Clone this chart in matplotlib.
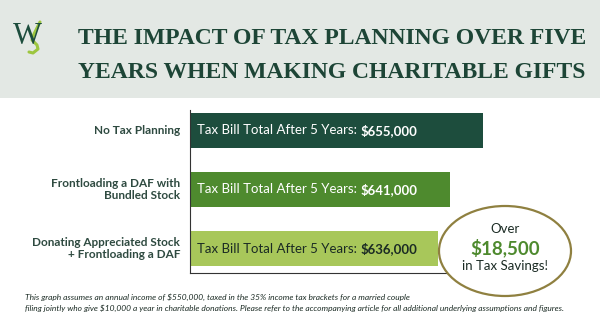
import matplotlib.pyplot as plt
from matplotlib.patches import Ellipse, Rectangle

# data
labels = ["No Tax Planning", "Frontloading a DAF with\nBundled Stock",
          "Donating Appreciated Stock\n+ Frontloading a DAF"]
totals = [655000, 641000, 636000]
bar_colors = ["#1d4d3d", "#4e8a2e", "#a8c75a"]
text_colors = ["white", "white", "#1b2b24"]
savings = "$18,500"
title_lines = ["THE IMPACT OF TAX PLANNING OVER FIVE",
               "YEARS WHEN MAKING CHARITABLE GIFTS"]
footnote = ["This graph assumes an annual income of $550,000, taxed in the 35% income tax brackets for a married couple",
            "filing jointly who give $10,000 a year in charitable donations. Please refer to the accompanying article for all additional underlying assumptions and figures."]

W, H = 600, 314
fig = plt.figure(figsize=(6, 3.14), dpi=100)
fig.patch.set_facecolor("white")

# background layer in pixel coords
ov = fig.add_axes([0, 0, 1, 1], zorder=0)
ov.set_xlim(0, W)
ov.set_ylim(H, 0)
ov.axis("off")
ov.add_patch(Rectangle((0, 0), W, 98, color="#e3e8e4", lw=0))

dark = "#1d4536"
for i, line in enumerate(title_lines):
    ov.text(332, 39 + i * 33, line, ha="center", va="center", fontsize=17,
            family="Liberation Serif", weight="bold", color=dark)

# logo: W plus a green swoosh
ov.text(27, 36, "W", ha="center", va="center", fontsize=22,
        family="Liberation Serif", color="#1d4d3d")
ov.plot([40, 34, 32, 37, 38, 33, 29], [22, 34, 40, 45, 49, 53, 52], color="#9dc63f",
        lw=2.2, solid_capstyle="round")

# bar chart
x0, x1 = 190, 504
ytop, ybot = 110, 273
ax = fig.add_axes([x0 / W, 1 - ybot / H, (x1 - x0) / W, (ybot - ytop) / H], zorder=1)
ax.patch.set_alpha(0)
pos = list(range(len(totals)))
ax.barh(pos, totals, height=0.59, color=bar_colors)
ax.set_xlim(531000, 663700)
ax.set_ylim(2.41, -0.34)
for s in ["top", "right"]:
    ax.spines[s].set_visible(False)
for s in ["left", "bottom"]:
    ax.spines[s].set_color("#333333")
    ax.spines[s].set_linewidth(0.8)
ax.set_xticks([])
ax.set_yticks([])

ytr = ax.get_yaxis_transform()
for i, (lab, v) in enumerate(zip(labels, totals)):
    ax.annotate(lab, xy=(0, i), xycoords=ytr, xytext=(-7, 0), textcoords="offset points",
                ha="right", va="center", fontsize=8.5, family="Lato", weight="bold",
                color="#2e4a40", linespacing=1.05)
    t = ax.annotate("Tax Bill Total After 5 Years: ", xy=(0, i), xycoords=ytr,
                    xytext=(5, 0), textcoords="offset points", ha="left", va="center",
                    fontsize=9.5, family="Lato", color=text_colors[i])
    ax.annotate("${:,.0f}".format(v), xy=(1, 0.5), xycoords=t, ha="left", va="center",
                fontsize=9.5, family="Lato", weight="bold", color=text_colors[i])

# savings bubble
ov2 = fig.add_axes([0, 0, 1, 1], zorder=2)
ov2.set_xlim(0, W)
ov2.set_ylim(H, 0)
ov2.axis("off")
ov2.add_patch(Ellipse((505, 251), 132, 90, facecolor="white", edgecolor="#8f8040", lw=1.6))
ov2.text(505, 229, "Over", ha="center", va="center", fontsize=9.5, family="Lato", color="#1b2b24")
ov2.text(505, 248, savings, ha="center", va="center", fontsize=13.5, family="Lato",
         weight="bold", color="#4e8a2e")
ov2.text(505, 266, "in Tax Savings!", ha="center", va="center", fontsize=9.5, family="Lato",
         color="#1b2b24")

for i, line in enumerate(footnote):
    ov2.text(25, 297 + i * 11, line, ha="left", va="center", fontsize=6.05, family="Lato",
             style="italic", color="#1b2b24")

fig.savefig("out.png", dpi=100)
